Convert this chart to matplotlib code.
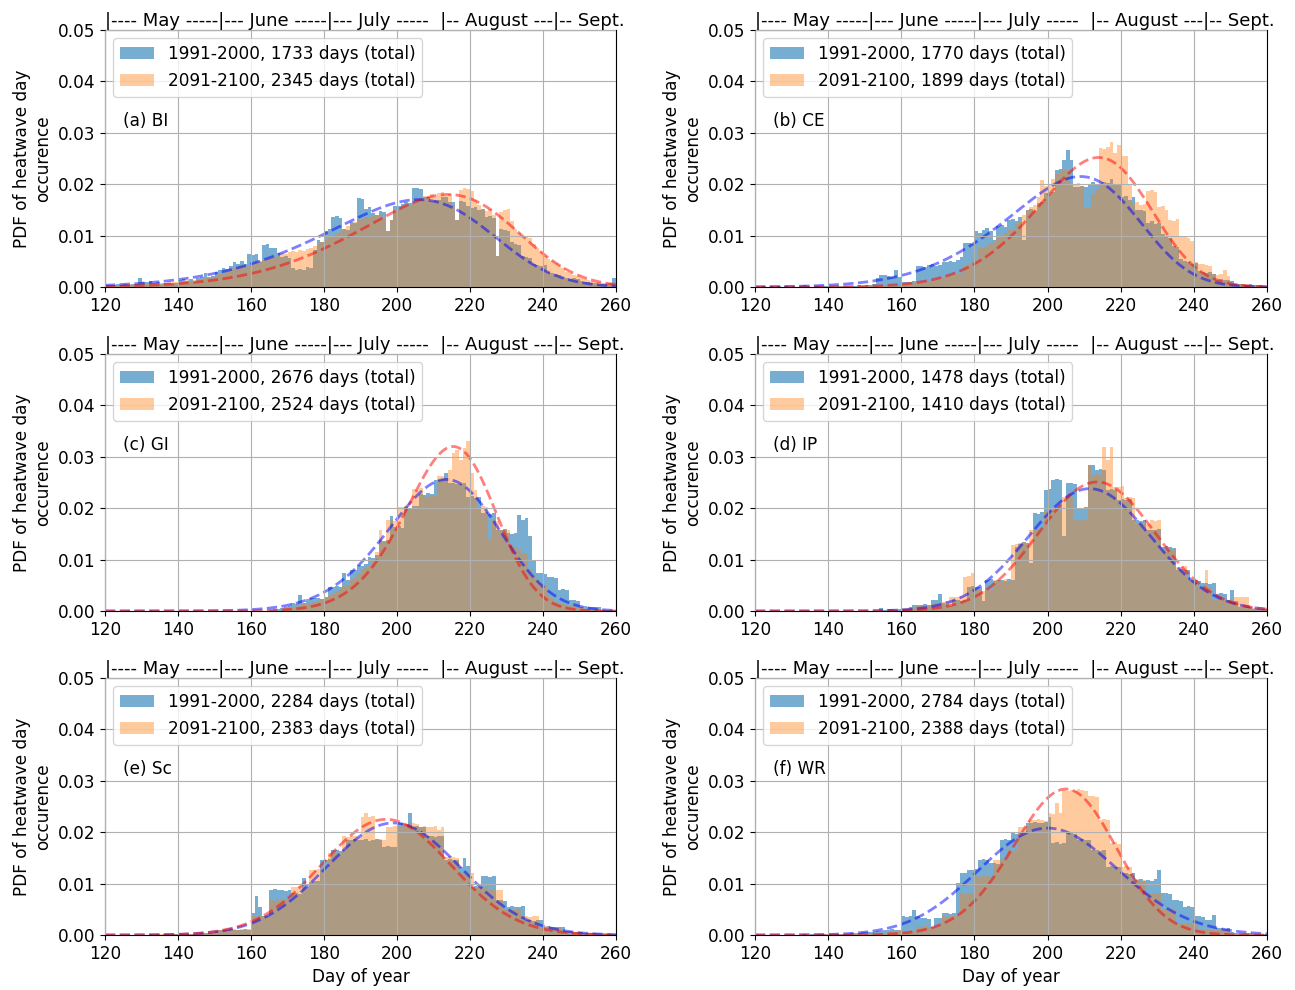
import math
import numpy as np
import matplotlib
matplotlib.use("Agg")
import matplotlib.pyplot as plt

# ---------------- data (histogram densities, units of 1e-4, days 120..259) ----------------
first_day = 120
n_days = 140

bi_1991 = [3,4,3,5,4,5,3,6,5,17,
           10,9,12,8,10,6,7,8,5,7,
           14,16,12,15,10,18,20,28,19,22,
           30,33,36,35,40,48,45,50,44,64,
           62,64,49,82,84,75,76,66,58,60,
           57,36,34,35,33,38,36,72,92,88,
           108,112,136,138,135,112,110,127,125,173,
           172,152,155,143,140,148,146,108,130,157,
           158,162,165,163,192,193,190,176,175,168,
           170,169,176,176,165,166,130,168,165,158,
           153,155,150,152,137,138,135,60,112,110,
           108,88,84,82,60,58,56,45,42,40,
           42,30,28,26,24,20,18,16,17,15,
           12,10,9,8,7,6,6,5,7,17]
bi_2091 = [3,3,4,3,4,3,5,4,5,4,
           6,5,7,6,8,7,8,9,8,10,
           11,10,13,12,14,15,16,18,17,20,
           24,26,28,30,35,36,38,40,39,42,
           45,48,50,52,54,56,58,62,66,64,
           68,70,69,72,70,74,76,80,84,88,
           92,96,100,104,108,112,118,122,126,130,
           132,136,134,140,138,143,135,108,130,150,
           152,155,158,160,164,168,172,178,176,180,
           175,182,184,178,180,160,130,188,192,190,
           186,170,160,150,148,152,140,60,145,150,
           152,128,112,105,98,100,96,84,76,68,
           60,55,50,46,42,36,30,28,24,22,
           18,16,14,12,10,9,8,7,6,5]
ce_1991 = [0,0,1,0,1,0,1,0,1,0,
           1,0,1,4,1,0,1,1,0,1,
           1,2,1,1,2,1,2,2,3,2,
           3,4,5,18,23,24,22,20,34,20,
           10,9,10,11,40,40,38,42,44,40,
           42,49,48,50,49,52,59,85,86,84,
           108,106,110,114,108,92,118,120,116,130,
           132,128,137,92,150,152,148,163,165,182,
           180,184,228,230,247,267,247,195,195,196,
           195,200,205,200,198,205,202,210,200,198,
           176,178,170,176,150,150,148,125,128,122,
           125,104,100,96,80,78,55,50,48,45,
           46,32,30,28,30,26,14,15,13,14,
           12,6,5,5,4,5,4,3,3,2]
ce_2091 = [0,0,0,0,0,0,0,0,0,0,
           0,0,0,0,0,0,0,0,1,0,
           0,1,0,1,0,1,1,0,1,1,
           1,2,1,2,2,3,2,3,4,3,
           5,7,6,8,9,10,12,11,14,13,
           18,20,22,24,25,26,28,40,45,50,
           55,75,76,80,85,90,95,100,105,110,
           112,122,128,140,150,155,160,175,208,196,
           200,210,220,225,230,228,200,198,202,196,
           153,155,180,190,270,268,272,283,260,277,
           254,254,200,163,165,160,162,186,188,185,
           156,158,150,130,128,132,100,98,96,90,
           48,45,44,42,40,26,24,25,33,22,
           6,7,6,5,5,4,4,3,3,2]
gi_1991 = [0]*40 + [
           0,0,0,0,0,1,3,4,6,8,
           10,15,14,31,16,24,25,26,25,24,
           28,47,46,48,47,73,60,80,79,90,
           88,92,106,104,108,138,136,138,184,164,
           165,162,203,200,204,205,228,226,230,228,
           255,254,256,268,249,250,248,247,250,222,
           224,220,221,190,192,189,190,158,157,159,
           151,150,152,187,177,180,145,99,73,74,
           72,66,67,65,41,42,40,21,22,20,
           8,9,8,7,8,8,2,2,2,2]
gi_2091 = [0]*40 + [
           0,0,0,0,0,0,0,0,0,5,
           6,8,10,12,14,15,16,18,20,24,
           25,30,33,38,42,48,50,60,65,72,
           80,86,90,100,115,158,135,177,178,176,
           203,202,204,200,238,236,240,225,222,226,
           224,262,262,260,275,307,314,294,318,330,
           268,236,203,204,202,138,177,176,158,157,
           158,128,125,118,112,110,82,70,62,55,
           50,32,25,20,16,13,11,10,9,8,
           5,4,3,2,2,1,1,1,0,0]
ip_1991 = [0]*30 + [
           0,0,0,0,5,2,3,4,2,3,
           3,4,8,12,11,12,13,12,21,22,
           34,15,14,10,21,22,20,21,47,48,
           46,47,20,60,62,58,61,60,58,62,
           60,125,130,135,132,93,190,188,192,236,
           238,255,256,254,145,249,250,248,200,198,
           202,284,285,275,276,274,236,237,235,216,
           218,215,217,177,178,176,177,158,157,158,
           159,125,126,124,123,80,82,79,80,60,
           61,59,54,55,53,54,34,35,33,21,
           41,20,8,8,7,8,3,3,3,3]
ip_2091 = [0]*30 + [
           0,0,0,0,0,0,0,0,0,0,
           5,5,6,8,9,10,12,12,14,15,
           16,18,20,28,27,28,29,67,68,73,
           40,42,38,40,41,60,61,58,62,59,
           128,130,132,134,130,158,157,160,158,195,
           194,196,197,195,222,222,220,177,176,178,
           177,284,265,266,264,320,294,320,242,241,
           243,220,221,219,170,171,169,170,177,176,
           178,119,120,118,119,86,85,87,60,61,
           60,47,46,80,47,22,23,21,22,22,
           23,28,28,27,28,5,5,5,4,4]
sc_1991 = [0,0,0,0,0,0,0,0,0,0,
           0,0,1,0,1,0,1,1,1,1,
           1,2,2,1,2,2,3,3,3,3,
           8,9,10,10,11,10,10,9,12,10,
           42,75,55,36,37,88,90,87,88,86,
           88,81,82,80,110,94,103,105,106,146,
           145,147,165,166,164,165,185,184,186,185,
           184,186,183,185,186,185,172,173,171,172,
           217,218,216,237,211,212,210,211,192,193,
           191,192,193,146,147,145,146,133,149,134,
           94,95,93,114,115,113,114,68,69,67,
           55,56,54,55,56,29,30,28,29,30,
           16,17,16,15,16,16,8,7,6,5,
           5,4,4,3,3,3,2,2,2,1]
sc_2091 = [0,0,0,0,0,0,0,0,0,0,
           0,0,0,1,0,1,1,1,1,1,
           1,1,2,2,2,3,3,3,4,4,
           8,9,10,9,10,11,10,12,10,11,
           36,35,37,36,38,68,67,69,68,70,
           68,94,93,95,94,92,127,126,128,127,
           126,159,158,160,159,192,191,193,192,190,
           230,237,229,231,185,186,184,211,210,212,
           211,217,216,218,217,216,211,212,210,211,
           212,205,211,152,153,151,150,120,121,119,
           120,94,95,93,94,88,89,87,88,49,
           50,48,49,50,36,37,35,36,37,16,
           17,15,16,16,15,8,7,6,5,5,
           4,4,3,3,3,2,2,2,1,1]
wr_1991 = [0,0,0,0,0,0,0,0,0,0,
           0,0,0,1,0,1,0,1,1,1,
           1,1,2,2,2,2,3,4,4,5,
           5,6,6,7,8,9,10,11,10,10,
           36,35,37,49,36,33,34,32,16,33,
           34,42,43,41,42,101,120,121,127,126,
           128,146,147,145,140,141,139,185,186,184,
           198,197,199,198,218,217,219,218,217,219,
           230,179,180,178,179,198,199,197,185,186,
           184,185,165,166,164,165,133,134,132,133,
           120,121,119,120,107,108,106,107,106,108,
           127,81,82,80,68,69,67,55,56,54,
           36,37,35,29,30,39,13,14,12,13,
           5,4,4,3,3,3,2,2,2,2]
wr_2091 = [0,0,0,0,0,0,0,0,0,0,
           0,0,0,0,0,0,0,0,0,1,
           0,1,1,1,1,1,1,2,2,2,
           2,3,3,3,4,4,8,7,8,9,
           8,8,9,8,16,15,17,16,15,16,
           17,36,35,37,36,36,81,80,82,81,
           114,113,115,114,113,146,145,147,146,165,
           164,166,211,210,212,224,223,225,224,222,
           237,236,256,237,282,280,283,281,284,282,
           281,270,271,269,224,225,223,179,180,178,
           133,134,132,107,108,106,107,81,80,82,
           81,49,50,48,49,23,24,22,23,22,
           23,10,11,9,10,10,11,9,10,10,
           2,2,2,2,2,2,1,1,1,1]

panel_labels = ["(a) BI", "(b) CE", "(c) GI", "(d) IP", "(e) Sc", "(f) WR"]
days_1991 = [1733, 1770, 2676, 1478, 2284, 2784]
days_2091 = [2345, 1899, 2524, 1410, 2383, 2388]
hist_1991 = [bi_1991, ce_1991, gi_1991, ip_1991, sc_1991, wr_1991]
hist_2091 = [bi_2091, ce_2091, gi_2091, ip_2091, sc_2091, wr_2091]

# skew-normal fits: mode (day), peak density, shape alpha
fit_mode_1991 = [206.0, 209.0, 213.5, 211.5, 199.0, 200.0]
fit_peak_1991 = [0.0170, 0.0215, 0.0256, 0.0238, 0.0218, 0.0208]
fit_alpha_1991 = [-2.3, -2.2, -1.3, -0.3, 0.0, 0.8]
fit_mode_2091 = [214.0, 214.0, 215.4, 213.5, 197.0, 205.0]
fit_peak_2091 = [0.0180, 0.0252, 0.0320, 0.0251, 0.0225, 0.0284]
fit_alpha_2091 = [-2.3, -1.8, -1.5, -0.3, 0.0, -1.0]

month_text = "|---- May -----|--- June -----|--- July -----  |-- August ---|-- Sept."

# ---------------- helpers ----------------
_erf = np.vectorize(math.erf)


def phi(z):
    return np.exp(-0.5 * z * z) / math.sqrt(2 * math.pi)


def Phi(z):
    return 0.5 * (1.0 + _erf(z / math.sqrt(2)))


def skewnorm_curve(x, mode, peak, alpha):
    z = np.linspace(-5, 5, 4001)
    f = 2 * phi(z) * Phi(alpha * z)
    i = int(np.argmax(f))
    zm, fm = z[i], f[i]
    omega = fm / peak
    xi = mode - zm * omega
    t = (x - xi) / omega
    return 2.0 / omega * phi(t) * Phi(alpha * t)


def as_density(v):
    a = np.zeros(n_days)
    v = np.asarray(v[:n_days], dtype=float)
    a[:len(v)] = v
    return a * 1e-4


# ---------------- figure ----------------
FS = 12.2
plt.rcParams["font.size"] = FS
plt.rcParams["font.family"] = ["DejaVu Sans"]

W, H = 1295, 990
fig = plt.figure(figsize=(W / 100, H / 100), dpi=100)

col_left = [105, 755]
col_width = [511, 512]
row_top = [30, 354, 678]
ax_h = 257

edges = np.arange(first_day, first_day + n_days + 1)
xs = np.linspace(120, 260, 600)

for k in range(6):
    r, c = divmod(k, 2)
    left = col_left[c] / W
    bottom = (H - (row_top[r] + ax_h)) / H
    ax = fig.add_axes([left, bottom, col_width[c] / W, ax_h / H])

    ax.stairs(as_density(hist_1991[k]), edges, fill=True, color="C0", alpha=0.6,
              label=f"1991-2000, {days_1991[k]} days (total)")
    ax.stairs(as_density(hist_2091[k]), edges, fill=True, color="C1", alpha=0.4,
              label=f"2091-2100, {days_2091[k]} days (total)")

    ax.plot(xs, skewnorm_curve(xs, fit_mode_1991[k], fit_peak_1991[k], fit_alpha_1991[k]),
            "b--", lw=2, alpha=0.5)
    ax.plot(xs, skewnorm_curve(xs, fit_mode_2091[k], fit_peak_2091[k], fit_alpha_2091[k]),
            "r--", lw=2, alpha=0.5)

    ax.set_xlim(120, 260)
    ax.set_ylim(0, 0.05)
    ax.set_xticks(np.arange(120, 261, 20))
    ax.set_yticks(np.arange(0, 0.0501, 0.01))
    ax.yaxis.set_major_formatter(matplotlib.ticker.FormatStrFormatter("%.2f"))
    ax.tick_params(labelsize=FS)
    ax.grid(True, color="#b0b0b0", lw=0.8)
    ax.set_axisbelow(False)
    ax.set_ylabel("PDF of heatwave day\noccurence", fontsize=FS)
    if r == 2:
        ax.set_xlabel("Day of year", fontsize=FS)

    ax.legend(loc="upper left", fontsize=FS)
    ax.text(125, 0.0322, panel_labels[k], fontsize=FS, va="center", ha="left")
    ax.text(0.0, 1.0, month_text, transform=ax.transAxes, fontsize=13.0,
            ha="left", va="bottom")

fig.savefig("out.png", dpi=100)
